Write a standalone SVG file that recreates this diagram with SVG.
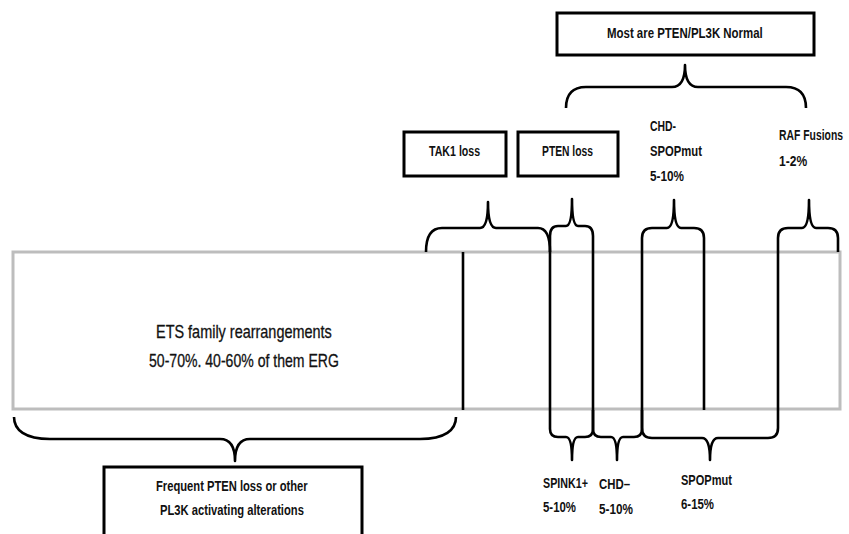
<svg xmlns="http://www.w3.org/2000/svg" width="849" height="534" viewBox="0 0 849 534">
<style>
.box{fill:#fff;stroke:#000;stroke-width:3}
.band{fill:#fff;stroke:#bdbdbd;stroke-width:3}
.ln{fill:none;stroke:#000;stroke-width:2.6;stroke-linecap:butt;stroke-linejoin:round}
text{font-family:"Liberation Sans",Arial,sans-serif;font-weight:bold;fill:#111}
.s{font-size:14.5px}
.b{font-size:15px}
.m{font-size:15.5px}
.l{font-size:18px;font-weight:normal;stroke:#111;stroke-width:0.3}
</style>
<rect width="849" height="534" fill="#fff"/>
<g id="ets">
<rect class="band" x="13" y="252" width="827" height="157"/>
<text class="l" transform="translate(156 338) scale(0.803 1)">ETS family rearrangements</text>
<text class="l" transform="translate(149 367) scale(0.782 1)">50-70%. 40-60% of them ERG</text>
</g>
<g id="most">
<rect class="box" x="557" y="13" width="257" height="42"/>
<text class="m" transform="translate(607 38) scale(0.739 1)">Most are PTEN/PL3K Normal</text>
</g>
<g id="tak1">
<rect class="box" x="404" y="132" width="102" height="44"/>
<text class="s" transform="translate(429 156) scale(0.733 1)">TAK1 loss</text>
</g>
<g id="pten">
<rect class="box" x="518" y="132" width="100" height="44"/>
<text class="s" transform="translate(542 156) scale(0.711 1)">PTEN loss</text>
</g>
<g id="chdspop">
<text class="s" transform="translate(650 131) scale(0.718 1)">CHD-</text>
<text class="s" transform="translate(650 156) scale(0.777 1)">SPOPmut</text>
<text class="s" transform="translate(650 181) scale(0.81 1)">5-10%</text>
</g>
<g id="raf">
<text class="s" transform="translate(779 140) scale(0.716 1)">RAF Fusions</text>
<text class="s" transform="translate(779 166) scale(0.83 1)">1-2%</text>
</g>
<g id="spink1">
<text class="b" transform="translate(543 488) scale(0.715 1)">SPINK1+</text>
<text class="b" transform="translate(543 512) scale(0.761 1)">5-10%</text>
</g>
<g id="chdminus">
<text class="b" transform="translate(599 489) scale(0.76 1)">CHD–</text>
<text class="b" transform="translate(599 514) scale(0.784 1)">5-10%</text>
</g>
<g id="spopmut">
<text class="b" transform="translate(681 485) scale(0.737 1)">SPOPmut</text>
<text class="b" transform="translate(681 509) scale(0.761 1)">6-15%</text>
</g>
<g id="frequent">
<rect class="box" x="104" y="467" width="258" height="80"/>
<text class="b" transform="translate(156 491) scale(0.747 1)">Frequent PTEN loss or other</text>
<text class="b" transform="translate(160 515) scale(0.748 1)">PL3K activating alterations</text>
</g>
<g id="connectors">
<path class="ln" d="M463 252V410M550 252V410M593 252V410M642 252V410M704 252V410M778 252V410"/>
<path class="ln" d="M566 108C566 95 572 87 586 87H672Q685 87 685 65Q685 87 698 87H786C800 87 806 95 806 108"/>
<path class="ln" d="M426 252C426 238 430 228 442 228H480Q488 228 488 202Q488 228 496 228H538C546 228 550 236 550 252"/>
<path class="ln" d="M550 252V236Q550 226 558 226H566Q572 226 572 199Q572 226 578 226H585Q593 226 593 236V252"/>
<path class="ln" d="M642 252V238Q642 228 652 228H667Q674 228 674 200Q674 228 681 228H694Q704 228 704 238V252"/>
<path class="ln" d="M778 252V238Q778 228 788 228H802Q809 228 809 200Q809 228 816 228H828Q838 228 838 238V252"/>
<path class="ln" d="M14 417C14 430 25 439 50 439H220Q235 439 235 461Q235 439 250 439H420C445 439 456 430 456 417"/>
<path class="ln" d="M550 410V429Q550 437 558 437H566Q572 437 572 460Q572 437 578 437H585Q593 437 593 429V410"/>
<path class="ln" d="M593 410V429Q593 437 601 437H611Q617 437 617 460Q617 437 623 437H634Q642 437 642 429V410"/>
<path class="ln" d="M642 410V428Q642 438 652 438H702Q710 438 710 460Q710 438 718 438H768Q778 438 778 428V410"/>
</g>
</svg>
